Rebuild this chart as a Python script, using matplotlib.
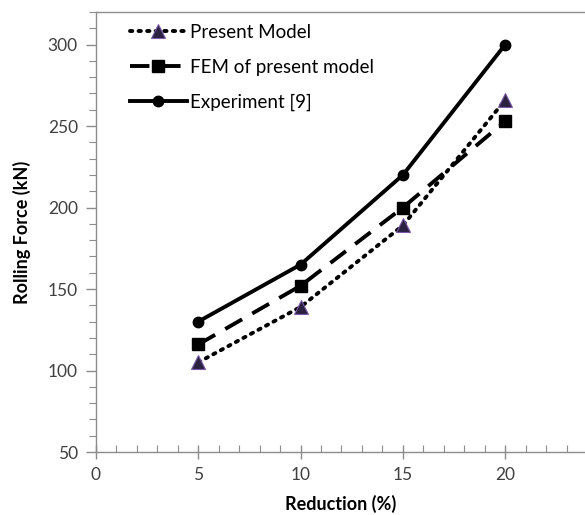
import matplotlib
matplotlib.use("Agg")
import matplotlib.pyplot as plt
from matplotlib.ticker import MultipleLocator

reduction = [5, 10, 15, 20]
present_model = [105, 139, 189, 266]
fem_model = [116, 152, 200, 253]
experiment = [130, 165, 220, 300]

plt.rcParams['font.family'] = ['Lato', 'DejaVu Sans']

fig = plt.figure(figsize=(5.85, 5.15), dpi=100)
ax = fig.add_axes([0.164, 0.1223, 0.836, 0.8544])

ax.plot(reduction, present_model, linestyle=(0, (0.6, 1.6)), dash_capstyle='round',
        color='black', linewidth=2.8, marker='^', markersize=9.5,
        markerfacecolor='#2b2140', markeredgecolor='#7a5aa8', markeredgewidth=0.8,
        label='Present Model')
ax.plot(reduction, fem_model, linestyle=(0, (5, 3)), color='black', linewidth=2.8,
        marker='s', markersize=8, markerfacecolor='black', markeredgecolor='black',
        label='FEM of present model')
ax.plot(reduction, experiment, linestyle='-', color='black', linewidth=2.8,
        marker='o', markersize=7.5, markerfacecolor='black', markeredgecolor='black',
        label='Experiment [9]')

ax.set_xlim(0, 23.9)
ax.set_ylim(50, 320)
ax.xaxis.set_major_locator(MultipleLocator(5))
ax.xaxis.set_minor_locator(MultipleLocator(1))
ax.yaxis.set_major_locator(MultipleLocator(50))
ax.yaxis.set_minor_locator(MultipleLocator(10))

for side in ['left', 'bottom', 'top']:
    ax.spines[side].set_color('#8c8c8c')
    ax.spines[side].set_linewidth(1.0)
ax.spines['right'].set_visible(False)

ax.tick_params(which='both', color='#8c8c8c', labelsize=12.5, labelcolor='#404040')
ax.tick_params(axis='x', which='major', direction='inout', length=10, width=1, pad=6)
ax.tick_params(axis='x', which='minor', direction='in', length=5, width=0.8)
ax.tick_params(axis='y', which='major', direction='out', length=7, width=1, pad=6)
ax.tick_params(axis='y', which='minor', direction='out', length=5, width=0.8)

ax.set_xlabel('Reduction (%)', fontsize=13, fontweight='bold', labelpad=8)
ax.set_ylabel('Rolling Force (kN)', fontsize=13, fontweight='bold', labelpad=12)

leg = ax.legend(loc='upper left', bbox_to_anchor=(0.055, 0.99), borderaxespad=0,
                frameon=False, fontsize=13.5, handlelength=3.0, handletextpad=0.2,
                labelspacing=0.95)

fig.savefig('out.png', dpi=100)
